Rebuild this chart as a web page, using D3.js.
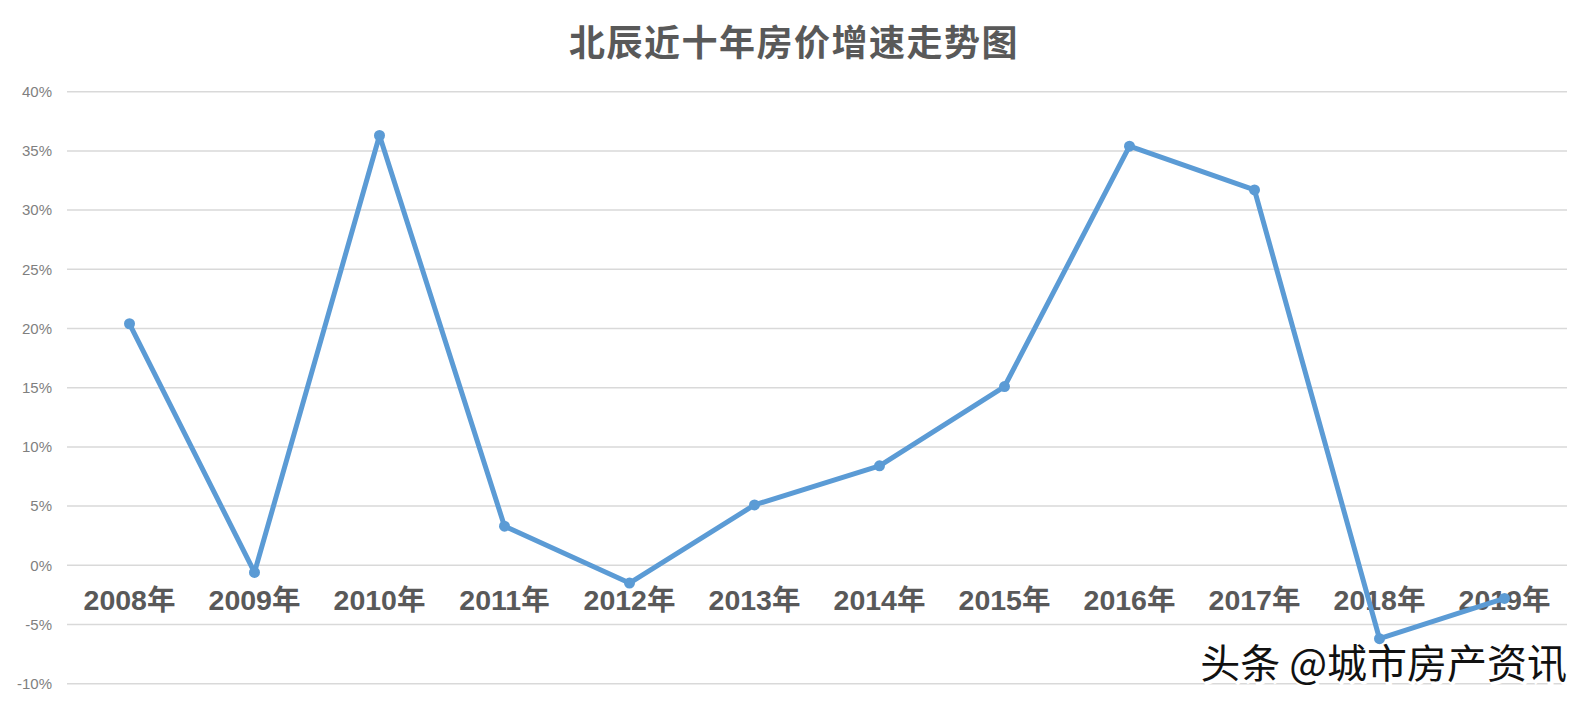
<!DOCTYPE html>
<html><head><meta charset="utf-8">
<script src="https://cdn.jsdelivr.net/npm/d3@7/dist/d3.min.js"></script>
<style>
body{margin:0;background:#fff;}
svg{display:block;}
</style></head>
<body>
<svg id="chart" width="1590" height="706"></svg>
<script>
const title = "北辰近十年房价增速走势图";
const categories = ["2008年","2009年","2010年","2011年","2012年","2013年","2014年","2015年","2016年","2017年","2018年","2019年"];
const values = [20.4, -0.6, 36.3, 3.3, -1.5, 5.1, 8.4, 15.1, 35.4, 31.7, -6.2, -2.8];
const yTicks = [-10, -5, 0, 5, 10, 15, 20, 25, 30, 35, 40];
const watermark = "头条 @城市房产资讯";

(function(){
const svg = d3.select("#chart");
const mLeft = 67, mRight = 1567, mTop = 91.7, mBottom = 683.7;

const x = d3.scaleBand().domain(categories).range([mLeft, mRight]);
const y = d3.scaleLinear().domain([-10, 40]).range([mBottom, mTop]);

// gridlines
svg.append("g").selectAll("line").data(yTicks).join("line")
  .attr("x1", mLeft).attr("x2", mRight)
  .attr("y1", d => y(d)).attr("y2", d => y(d))
  .attr("stroke", "#d9d9d9").attr("stroke-width", 1.5);

// y labels
svg.append("g").selectAll("text").data(yTicks).join("text")
  .attr("x", 52).attr("y", d => y(d)).attr("dy", "0.35em")
  .attr("text-anchor", "end")
  .attr("font-family", "Liberation Sans, Arial, sans-serif")
  .attr("font-size", 15).attr("fill", "#7f7f7f")
  .text(d => d + "%");

// x labels
svg.append("g").selectAll("text").data(categories).join("text")
  .attr("x", d => x(d) + x.bandwidth()/2).attr("y", 610)
  .attr("text-anchor", "middle")
  .attr("font-family", "Liberation Sans, 'Noto Sans CJK SC', sans-serif")
  .attr("font-weight", "bold")
  .attr("font-size", 28.5).attr("fill", "#595959")
  .text(d => d);

// title
svg.append("text").attr("x", 794).attr("y", 56)
  .attr("text-anchor", "middle")
  .attr("font-family", "'Noto Sans CJK SC', sans-serif")
  .attr("font-weight", "bold").attr("font-size", 36)
  .attr("letter-spacing", 1.5)
  .attr("fill", "#595959").text(title);

// line
const line = d3.line().x((d,i) => x(categories[i]) + x.bandwidth()/2).y(d => y(d));
svg.append("path").datum(values).attr("d", line)
  .attr("fill", "none").attr("stroke", "#5b9bd5").attr("stroke-width", 5)
  .attr("stroke-linejoin", "round");
svg.append("g").selectAll("circle").data(values).join("circle")
  .attr("cx", (d,i) => x(categories[i]) + x.bandwidth()/2)
  .attr("cy", d => y(d)).attr("r", 5.5).attr("fill", "#5b9bd5");

// watermark
const wm = svg.append("g").attr("font-family", "'Noto Sans CJK SC', sans-serif")
  .attr("font-size", 40).attr("text-anchor", "end");
wm.append("text").attr("x", 1569).attr("y", 680).attr("fill", "#fff")
  .attr("stroke", "#fff").attr("stroke-width", 3).text(watermark);
wm.append("text").attr("x", 1567).attr("y", 678).attr("fill", "#111").text(watermark);
})();
</script>
</body></html>
